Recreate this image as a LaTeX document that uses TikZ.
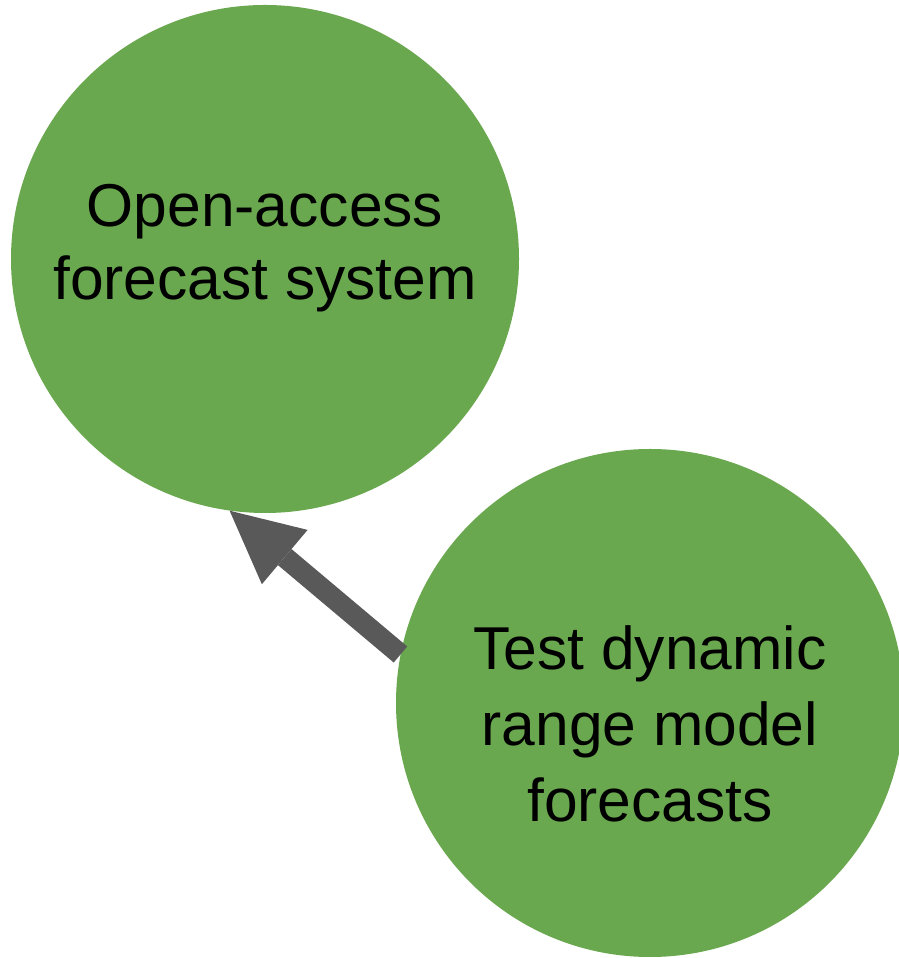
\documentclass[tikz,border=0pt]{standalone}
\usepackage{fontspec}
\setmainfont{Liberation Sans}
\usetikzlibrary{arrows.meta}
\definecolor{leaf}{HTML}{6AA84F}
\definecolor{ink}{HTML}{595959}
\tikzset{
  bubble/.style={circle, fill=leaf, draw=none, minimum size=508pt, inner sep=0pt},
  caption/.style={align=center, text=black, inner sep=0pt},
  link/.style={draw=ink, line width=21pt,
    -{Triangle[width=71pt,length=72pt,line width=0pt]}}
}
\begin{document}
\begin{tikzpicture}[x=1pt,y=1pt]
  \useasboundingbox (0,0) rectangle (899,958);
  % the two circles
  \node[bubble] (sys) at (265,699) {};
  \node[bubble] (test) at (650,255) {};
  % their texts
  \node[caption, font=\fontsize{60.5}{73}\selectfont] (systxt)
    at ([yshift=10.5pt]sys.center) {Open-access\\forecast system};
  \node[caption, font=\fontsize{60.5}{76}\selectfont] (testtxt)
    at ([yshift=-21pt]test.center) {Test dynamic\\range model\\forecasts};
  % connector
  \draw[link] (test.169.8) -- (sys.262.6);
\end{tikzpicture}
\end{document}
